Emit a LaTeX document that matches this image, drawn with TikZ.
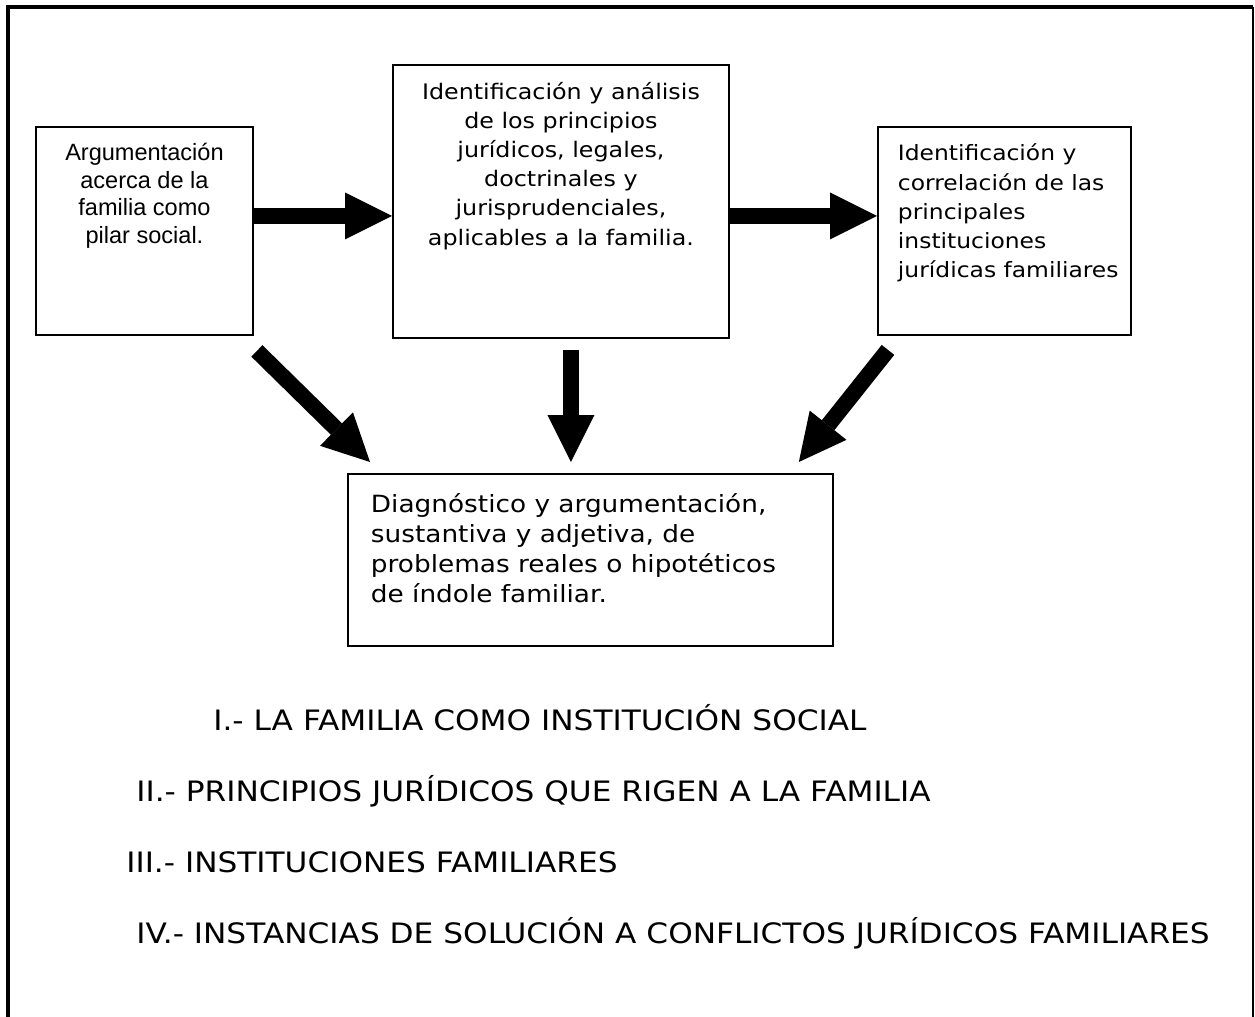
\documentclass[tikz,border=0pt]{standalone}
\usepackage{fontspec}
\setmainfont{DejaVu Sans}[FakeStretch=1.11]
\newfontfamily\arialfont{Liberation Sans}
\usetikzlibrary{arrows.meta, calc}
\tikzset{
    outerline/.style = {line width=2.3pt},
    box/.style = {rectangle, draw=black, line width=1.1pt, inner sep=0pt, anchor=north west},
    bigarrow/.style = {line width=0.32cm, -{Triangle[width=0.94cm, length=0.94cm, line width=0pt]}},
    topic/.style = {anchor=base west, inner sep=0pt, font=\fontsize{16}{20}\selectfont}
}

\begin{document}
\begin{tikzpicture}[x=0.02cm, y=-0.02cm]
\useasboundingbox (0,0) rectangle (1255,1017);

% outer frame (open at the bottom)
\draw[outerline] (8,1017) -- (8,7) -- (1253,7);
\draw[line width=1.3pt] (1253,7) -- (1253,1017);

% boxes
\node[box] (argum) at (35,126) {\parbox[t][4.16cm][t]{4.34cm}{\centering\arialfont\fontsize{13.4}{15.6}\selectfont
    \rule{0pt}{0.68cm}Argumentación\\acerca de la\\familia como\\pilar social.}};
\node[box] (princ) at (392,64) {\parbox[t][5.46cm][t]{6.72cm}{\centering\fontsize{12.2}{16.6}\selectfont
    \rule{0pt}{0.686cm}Identificación y análisis\\de los principios\\jurídicos, legales,\\doctrinales y\\jurisprudenciales,\\aplicables a la familia.}};
\node[box] (inst) at (877,126) {\parbox[t][4.16cm][t]{5.06cm}{\raggedright\leftskip=0.4cm\fontsize{12}{16.6}\selectfont
    \rule{0pt}{0.68cm}Identificación y\\correlación de las\\principales\\instituciones\\jurídicas familiares}};
\node[box] (diag) at (347,473) {\parbox[t][3.44cm][t]{9.7cm}{\raggedright\leftskip=0.46cm\fontsize{13.5}{17}\selectfont
    \rule{0pt}{0.774cm}Diagnóstico y argumentación,\\sustantiva y adjetiva, de\\problemas reales o hipotéticos\\de índole familiar.}};

% arrows
\coordinate (r1) at ($(argum.east)+(0,-15)$);
\coordinate (r2) at ($(princ.east)+(0,14.5)$);
\draw[bigarrow] (r1) -- (r1 -| princ.west);
\draw[bigarrow] (r2) -- (r2 -| inst.west);
\draw[bigarrow] ($(argum.south east)+(3,15)$) -- ($(diag.north west)+(23,-11)$);
\draw[bigarrow] ($(princ.south)+(10,11)$) -- ($(princ.south |- diag.north)+(10,-11)$);
\draw[bigarrow] ($(inst.south west)+(11,14)$) -- ($(diag.north east)+(-35,-11)$);

% topics
\node[topic] (t1) at (213,730) {I.- LA FAMILIA COMO INSTITUCIÓN SOCIAL};
\node[topic] (t2) at (136,801) {II.- PRINCIPIOS JURÍDICOS QUE RIGEN A LA FAMILIA};
\node[topic] (t3) at (126,872) {III.- INSTITUCIONES FAMILIARES};
\node[topic] (t4) at (136,943) {IV.- INSTANCIAS DE SOLUCIÓN A CONFLICTOS JURÍDICOS FAMILIARES};

\end{tikzpicture}
\end{document}
